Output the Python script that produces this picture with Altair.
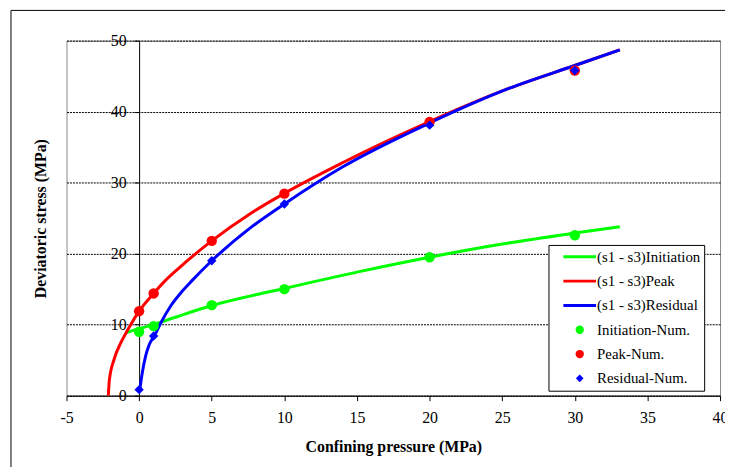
import altair as alt
import pandas as pd

# ---- series / legend entries ----
series_names = ["(s1 - s3)Initiation", "(s1 - s3)Peak", "(s1 - s3)Residual",
                "Initiation-Num.", "Peak-Num.", "Residual-Num."]
series_colors = ["#00FF00", "#FF0000", "#0000FF", "#00FF00", "#FF0000", "#0000FF"]
series_shapes = ["stroke", "stroke", "stroke", "circle", "circle", "diamond"]

# ---- fitted curves ----
init_x = [-0.87, 0, 1.07, 2.5, 5, 10, 15, 20, 25, 30, 33.1]
init_y = [8.9, 9.45, 10.06, 11.05, 12.7, 15.1, 17.4, 19.5, 21.35, 22.9, 23.8]

peak_x = [-2.12, -2.05, -1.71, -1.25, -0.8, 0, 1, 1.8, 2.7, 5, 7.7, 10, 14, 20, 25.5, 30, 33.1]
peak_y = [0, 2.2, 5.2, 7.5, 9.2, 11.9, 14.4, 16.2, 17.9, 21.8, 25.7, 28.5, 32.8, 38.6, 43.3, 46.5, 48.7]

resid_x = [0.05, 0.2, 0.45, 0.68, 1.07, 1.48, 2.16, 2.96, 3.64, 5, 7.7, 10, 14, 20, 25.5, 30, 33.1]
resid_y = [0.85, 3.0, 5.6, 7.1, 8.5, 10.2, 12.6, 14.7, 16.2, 19.0, 23.7, 27.0, 32.2, 38.4, 43.3, 46.5, 48.7]

# ---- numerical results ----
num_x = [0, 1, 5, 10, 20, 30]
init_num = [9.0, 9.8, 12.75, 15.0, 19.5, 22.6]
peak_num = [11.9, 14.4, 21.8, 28.45, 38.55, 45.8]
resid_num = [0.85, 8.4, 19.0, 27.0, 38.1, 45.8]

# ---- axis ticks ----
x_ticks = [-5, 0, 5, 10, 15, 20, 25, 30, 35, 40]
y_ticks = [0, 10, 20, 30, 40, 50]

FONT = "Liberation Serif"
NBSP = "\u00a0"

curves = pd.concat([
    pd.DataFrame({"x": init_x, "y": init_y, "series": series_names[0]}),
    pd.DataFrame({"x": peak_x, "y": peak_y, "series": series_names[1]}),
    pd.DataFrame({"x": resid_x, "y": resid_y, "series": series_names[2]}),
], ignore_index=True)

circles = pd.concat([
    pd.DataFrame({"x": num_x, "y": init_num, "series": series_names[3]}),
    pd.DataFrame({"x": num_x, "y": peak_num, "series": series_names[4]}),
], ignore_index=True)
diamonds = pd.DataFrame({"x": num_x, "y": resid_num, "series": series_names[5]})

W, H = 659, 358
line_list = "['(s1 - s3)Initiation','(s1 - s3)Peak','(s1 - s3)Residual']"
is_line = f"indexof({line_list}, datum.value) >= 0"

legend = alt.Legend(
    title=None, orient="none", legendX=486, legendY=206,
    fillColor="white", strokeColor="black", padding=3,
    labelFont=FONT, labelFontSize=15, labelColor="black",
    labelOffset=10, symbolOffset=21, clipHeight=18, rowPadding=6.5,
    labelExpr=f"datum.label + '{NBSP * 4}'",
    symbolSize=alt.ExprRef(expr=f"{is_line} ? 1089 : (datum.value === 'Residual-Num.' ? 60 : 70)"),
    symbolStrokeWidth=alt.ExprRef(expr=f"{is_line} ? 3 : 0"),
    symbolStrokeColor=alt.ExprRef(expr="scale('color', datum.value)"),
    symbolFillColor=alt.ExprRef(expr="scale('color', datum.value)"),
    symbolOpacity=1,
)

xscale = alt.Scale(domain=[-5, 40], nice=False, zero=False)
yscale = alt.Scale(domain=[0, 50], nice=False)
cscale = alt.Scale(domain=series_names, range=series_colors)
sscale = alt.Scale(domain=series_names, range=series_shapes)

xaxis = alt.Axis(values=x_ticks, title="Confining pressure (MPa)", grid=False,
                 titleFont=FONT, titleFontSize=16, titleFontWeight="bold",
                 titleColor="black", titleY=51, titleBaseline="middle",
                 labelFont=FONT, labelFontSize=16, labelColor="black",
                 labelExpr="'' + datum.value",
                 labelPadding=9, tickSize=5, tickColor="black", domainColor="black",
                 labelFlush=False)
yaxis = alt.Axis(values=y_ticks, title="Deviatoric stress (MPa)", offset=-W * 5 / 45,
                 titleFont=FONT, titleFontSize=16, titleFontWeight="bold",
                 titleColor="black", titleX=-99, titleY=H / 2, titleBaseline="middle",
                 labelFont=FONT, labelFontSize=16, labelColor="black",
                 labelPadding=8, tickSize=5, tickColor="black", domainColor="black",
                 grid=True, gridDash=[2, 1], gridColor="black", gridWidth=1)

frame = alt.Chart(alt.Data(values=[{"f": 1}])).mark_rect(
    fillOpacity=0, stroke="black", strokeWidth=1
).encode(x=alt.value(-56), x2=alt.value(690), y=alt.value(-30.5), y2=alt.value(460))

lines = alt.Chart(curves).mark_line(strokeWidth=3, interpolate="monotone").encode(
    x=alt.X("x:Q", scale=xscale, axis=xaxis),
    y=alt.Y("y:Q", scale=yscale, axis=yaxis),
    color=alt.Color("series:N", scale=cscale, legend=legend),
)

pts_c = alt.Chart(circles).mark_point(filled=True, opacity=1, size=110, strokeWidth=0).encode(
    x=alt.X("x:Q", scale=xscale),
    y=alt.Y("y:Q", scale=yscale),
    color=alt.Color("series:N", scale=cscale, legend=legend),
    shape=alt.Shape("series:N", scale=sscale, legend=legend),
)

pts_d = alt.Chart(diamonds).mark_point(filled=True, opacity=1, size=90, strokeWidth=0).encode(
    x=alt.X("x:Q", scale=xscale),
    y=alt.Y("y:Q", scale=yscale),
    color=alt.Color("series:N", scale=cscale, legend=legend),
    shape=alt.Shape("series:N", scale=sscale, legend=legend),
)

chart = alt.layer(frame, lines, pts_c, pts_d).properties(
    width=W, height=H,
    autosize=alt.AutoSizeParams(type="none"),
    padding={"left": 59, "top": 31, "right": 5, "bottom": 70},
).configure(font=FONT).configure_view(stroke="#888888", strokeWidth=1)

chart.save("out.html", embed_options={"renderer": "svg", "actions": False})
